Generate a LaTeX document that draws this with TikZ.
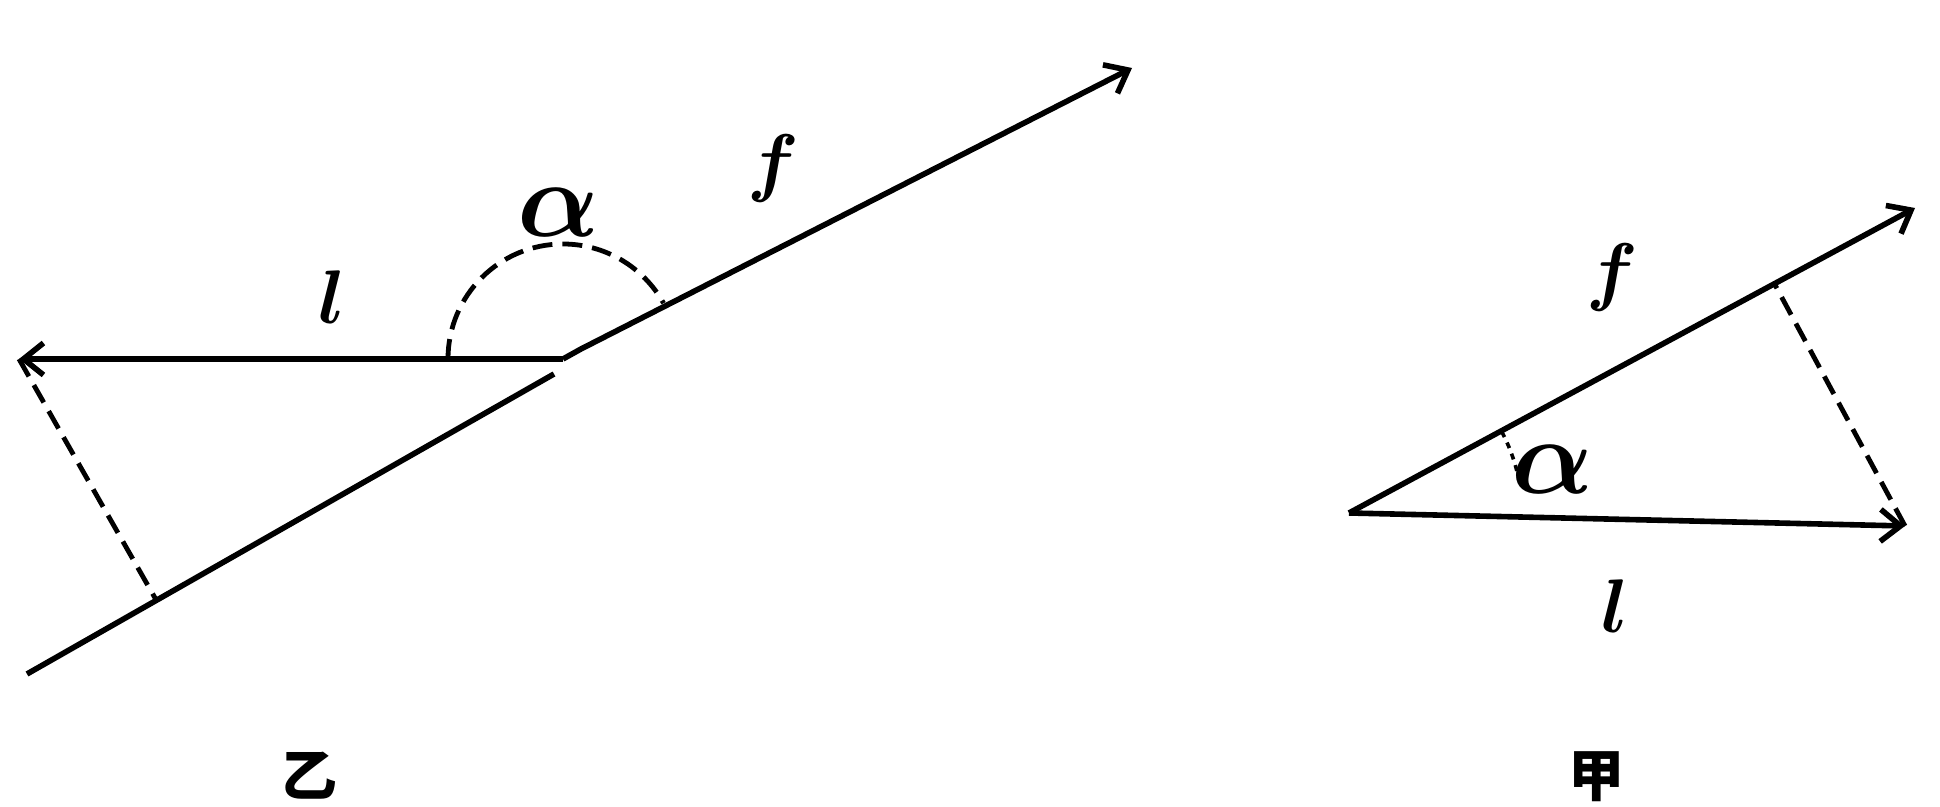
\RequirePackage{fix-cm}
\documentclass[tikz,border=0pt]{standalone}
\usepackage{amsmath,amssymb}
\usepackage{fontspec}
\usetikzlibrary{arrows.meta,calc}
\newfontfamily\cjk{Noto Sans CJK SC}

\begin{document}
\begin{tikzpicture}[x=0.5pt,y=0.5pt,
  vec/.style={line width=2.8pt,-{Straight Barb[length=10pt,width=16pt]}},
  ray/.style={line width=2.8pt},
  perp/.style={line width=2.4pt,dash pattern=on 10pt off 5pt},
  dotarc/.style={line width=1.8pt,dash pattern=on 3pt off 3pt},
  lab/.style={inner sep=0pt,font=\fontsize{38}{38}\selectfont},
  biglab/.style={inner sep=0pt,font=\fontsize{54}{54}\selectfont},
  figlab/.style={inner sep=0pt,font=\fontsize{28}{28}\selectfont\cjk\bfseries}]
  \useasboundingbox (0,0) rectangle (1940,807);
  % figure yi
  \coordinate (O1) at (563,448);
  \coordinate (K1) at (581,458);
  \coordinate (F1) at (1132,739);
  \coordinate (L1) at (19,448);
  \coordinate (B1) at (27,133);
  \coordinate (E1) at (554,433);
  \draw[vec] (O1) -- (L1);
  \draw[vec] (O1) -- (K1) -- (F1);
  \draw[ray] (B1) -- (E1);
  \draw[perp] (L1) -- ($(B1)!(L1)!(E1)$);
  \draw[perp] ($(O1)+(-57.5pt,0pt)$) arc[start angle=180,end angle=29,radius=57.5pt];
  \node[biglab] (a1) at (559,594) {$\boldsymbol{\alpha}$};
  \node[lab] (f1) at (773,638) {$\boldsymbol{f}$};
  \node[lab] (l1) at (332,510) {$\boldsymbol{l}$};
  \node[figlab] (yi) at (309,31) {乙};
  % figure jia
  \coordinate (O2) at (1349,294);
  \coordinate (F2) at (1915,599);
  \coordinate (L2) at (1905,281);
  \draw[vec] (O2) -- (F2);
  \draw[vec] (O2) -- (L2);
  \draw[perp] (L2) -- ($(O2)!(L2)!(F2)$);
  \draw[dotarc] ($(O2)+(28:86.5pt)$) arc[start angle=28,end angle=12,radius=86.5pt];
  \node[biglab] (a2) at (1553,337) {$\boldsymbol{\alpha}$};
  \node[lab] (f2) at (1612,529) {$\boldsymbol{f}$};
  \node[lab] (l2) at (1615,201) {$\boldsymbol{l}$};
  \node[figlab] (jia) at (1596,30) {甲};
\end{tikzpicture}
\end{document}
